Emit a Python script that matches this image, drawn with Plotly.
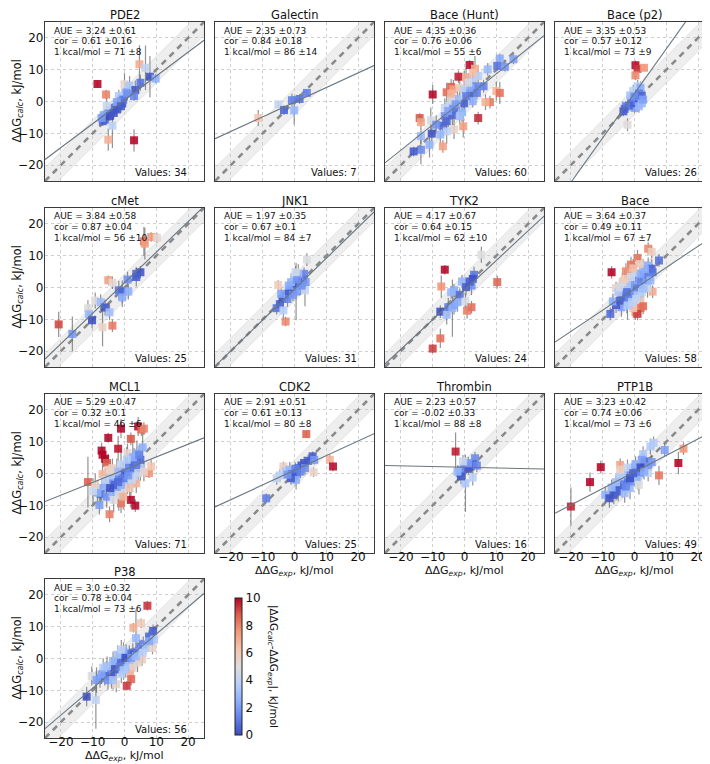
import plotly.graph_objects as go

# ---------------- data ----------------
titles = ["PDE2", "Galectin", "Bace (Hunt)", "Bace (p2)", "cMet", "JNK1", "TYK2", "Bace",
          "MCL1", "CDK2", "Thrombin", "PTP1B", "P38"]

aue = ["3.24 ±0.61", "2.35 ±0.73", "4.35 ±0.36", "3.35 ±0.53", "3.84 ±0.58", "1.97 ±0.35", "4.17 ±0.67",
       "3.64 ±0.37", "5.29 ±0.47", "2.91 ±0.51", "2.23 ±0.57", "3.23 ±0.42", "3.0 ±0.32"]
cor = ["0.61 ±0.16", "0.84 ±0.18", "0.76 ±0.06", "0.57 ±0.12", "0.87 ±0.04", "0.67 ±0.1", "0.64 ±0.15",
       "0.49 ±0.11", "0.32 ±0.1", "0.61 ±0.13", "-0.02 ±0.33", "0.74 ±0.06", "0.78 ±0.04"]
kcal = ["71 ±8", "86 ±14", "55 ±6", "73 ±9", "56 ±10", "84 ±7", "62 ±10", "67 ±7", "46 ±6",
        "80 ±8", "88 ±8", "73 ±6", "73 ±6"]
n_values = [34, 7, 60, 26, 25, 31, 24, 58, 71, 25, 16, 49, 56]

fit_slope = [0.75, 0.46, 0.80, 1.40, 0.96, 0.97, 0.93, 0.67, 0.40, 0.46, -0.022, 0.52, 0.85]
fit_icept = [0.5, -0.2, 0.7, 2.56, 1.5, -0.5, -0.8, -0.4, 1.2, 1.0, 1.95, 0.5, -0.8]

pde2_exp = [-8.5, -5.8, 4.7, 6.6, 8.0, 9.8, 0.0, 1.6, 3.4, 3.0, 0.3, -1.8, -1.1, -1.8, -3.1, -4.2, -5.1,
            -6.5, -6.8, -6.1, -3.8, -5.1, 3.0, -5.6, -2.4, -0.7, -4.6, -0.4, 0.9, -2.4, -3.4, -7.2, 5.0, -1.1]
pde2_calc = [5.5, 2.2, 11.7, 10.6, 7.8, 7.2, 5.4, 5.0, 3.6, 1.7, 2.9, 1.7, 0.0, -1.3, -2.0, -3.0, -3.6,
             -4.3, -6.2, -5.7, -7.6, -12.0, -12.2, -1.3, -2.5, -0.6, -4.6, 0.6, 2.5, -0.2, -3.6, -5.2, 5.9, -1.5]
pde2_err = [1.0, 1.5, 6.0, 7.0, 6.5, 1.5, 3.5, 3.0, 3.0, 1.5, 3.0, 2.0, 2.0, 2.0, 2.0, 2.0, 2.0,
            1.5, 1.5, 1.5, 7.0, 3.5, 3.5, 2.5, 2.0, 2.0, 1.5, 2.5, 2.0, 1.5, 2.0, 1.5, 2.5, 2.0]

gal_exp = [-11.4, -5.1, -3.3, -0.8, -0.1, 1.6, 3.9]
gal_calc = [-5.2, -0.9, -2.7, 0.4, -2.8, 0.8, 2.7]
gal_err = [2.5, 1.0, 1.5, 2.0, 4.5, 1.5, 1.0]

bh_exp = [11.1, 10.3, 12.7, 15.4, 1.6, 3.3, -1.9, 0.5, 4.3, 2.6,
          -4.2, -5.6, -10.0, -3.5, -1.5, -0.1, 1.9, 3.5, 6.0, 10.0,
          11.1, 8.0, 6.6, 2.6, -0.1, -2.2, -4.9, -3.5, -0.8, -6.2,
          -3.8, 4.3, -14.1, -13.7, -10.6, -6.9, -5.6, -3.3, -0.4, -5.6,
          -7.6, -10.3, -13.7, -11.0, -13.7, -16.0, -6.8, -4.2, -2.8, 0.5,
          1.9, -6.2, 1.2, 2.6, 3.9, -1.5, -8.9, -4.2, 7.3, -5.1]
bh_calc = [13.5, 11.2, 10.9, 13.3, 11.5, 10.3, 7.8, 7.5, 8.0, 6.4,
           4.6, 2.9, 2.2, 3.8, 4.3, 3.6, 2.5, 4.8, 4.8, 3.3,
           2.7, -0.2, -0.2, 0.1, -0.6, 0.8, -1.5, -2.5, -3.4, -4.6,
           -4.4, -5.2, -5.2, -6.5, -5.9, -7.6, -6.2, -8.8, -7.8, -9.4,
           -10.4, -10.1, -10.9, -13.6, -15.2, -15.7, -14.1, 0.6, -0.9, 1.7,
           4.3, -2.0, 5.9, 9.0, 2.7, -4.6, -7.3, 2.5, 10.1, -3.0]
bh_err = [1.5, 1.5, 1.5, 1.5, 1.5, 4.0, 2.0, 3.0, 2.0, 5.0,
          2.5, 3.0, 3.0, 3.0, 3.0, 6.0, 3.0, 3.5, 2.0, 3.0,
          3.5, 2.0, 2.5, 2.0, 2.5, 4.0, 3.0, 3.0, 3.0, 3.0,
          3.0, 2.0, 1.5, 2.0, 4.0, 3.0, 3.5, 3.0, 3.5, 4.0,
          3.5, 2.5, 2.5, 4.0, 4.5, 1.5, 2.0, 2.5, 3.0, 3.0,
          4.0, 3.0, 3.0, 3.0, 2.0, 2.5, 3.0, 3.0, 2.0, 5.0]

bp2_exp = [0.3, 0.95, 3.0, 0.3, 0.0, 1.0, 1.9, -0.4, 1.4, 2.3, -0.8, 0.3, 1.6, 0.95, -0.4, -1.1, 2.3,
           -1.8, -2.7, -3.1, -3.5, 1.4, -2.2, -1.4, 0.0, 2.7]
bp2_calc = [11.4, 10.3, 10.6, 8.2, -2.0, 4.8, 4.3, 3.3, 2.5, 1.7, 0.6, 0.1, 0.8, -0.6, -0.4, 0.1, -0.6,
            -1.3, -1.5, -2.3, -3.1, -1.5, -7.3, 1.9, 1.5, 0.6]
bp2_err = [1.5, 1.5, 1.0, 1.5, 1.5, 2.0, 2.0, 2.0, 2.0, 1.5, 2.0, 2.0, 2.0, 2.0, 2.0, 2.0, 1.5,
           1.5, 1.5, 1.5, 1.5, 2.0, 2.0, 1.5, 1.5, 1.5]

cmet_exp = [6.1, 6.4, 8.4, 10.2, 3.7, 5.0, 0.95, -5.1, -3.8, -1.8, -0.7, 1.2, -0.7, -9.2, -7.5, -6.1,
            -11.5, -11.2, -4.7, -10.2, -20.7, -6.9, -3.8, -16.4, 3.7]
cmet_calc = [14.5, 13.8, 15.9, 15.6, 4.3, 4.8, 2.5, 2.3, 1.5, -0.9, -1.3, -1.3, -3.1, -4.1, -4.6, -6.3,
             -6.5, -8.4, -7.8, -10.3, -11.6, -12.5, -12.0, -14.6, 3.3]
cmet_err = [4.5, 5.0, 1.5, 1.5, 2.0, 2.0, 2.5, 1.5, 2.0, 3.0, 3.5, 2.5, 3.0, 2.5, 2.5, 2.5,
            2.5, 3.0, 2.5, 2.5, 4.0, 6.0, 2.0, 5.5, 3.0]

jnk1_exp = [3.9, -5.1, -2.8, -5.6, -4.6, -3.8, -2.8, -2.2, -1.5, -0.8, -0.1, 0.5, 1.2, 1.9, 2.6, 3.0,
            1.2, -0.1, -1.1, 0.5, 1.9, 3.3, -2.2, -3.5, -0.5, 2.2, 0.8, -1.8, 3.5, -4.2, 0.3]
jnk1_calc = [8.8, 0.8, -10.7, -6.5, -5.2, -3.6, -2.5, -2.0, -0.9, -0.4, 0.1, 0.8, 1.5, 2.2, 2.7, 4.3,
             4.3, 3.3, 1.7, -1.3, -0.4, -0.9, -3.6, -7.2, -2.3, 0.6, 2.5, 0.6, 1.7, -2.0, 4.8]
jnk1_err = [2.0, 1.5, 1.5, 2.0, 2.0, 2.5, 2.0, 2.0, 2.0, 2.5, 2.0, 2.0, 2.0, 2.5, 2.5, 2.0,
            3.0, 2.0, 2.0, 9.0, 2.0, 5.0, 2.5, 3.0, 2.0, 2.0, 2.0, 2.0, 2.0, 2.0, 2.0]

tyk2_exp = [5.3, -6.2, -7.3, 10.3, 3.0, 2.6, -0.8, -3.3, -1.5, 2.2, 0.5, 0.3, -5.1, -3.8, -3.3, -7.6,
            -5.6, 0.8, 2.2, -7.6, -10.0, -2.2, 1.6, -4.2]
tyk2_calc = [10.3, 5.6, 0.3, 1.7, 4.0, 2.7, 1.9, -0.9, -2.3, 0.6, 0.1, -4.4, -6.2, -6.5, -5.5, -7.6,
             -8.6, -7.3, -6.2, -16.0, -19.2, -4.6, 1.9, -1.5]
tyk2_err = [2.5, 1.5, 3.5, 2.0, 2.5, 2.0, 2.0, 2.0, 2.0, 3.0, 2.5, 2.5, 3.0, 9.0, 3.0, 2.0,
            3.0, 2.5, 2.0, 3.0, 1.5, 3.0, 2.0, 2.0]

bace_exp = [-7.2, -5.8, 4.3, 5.4, 0.95, -1.1, -2.7, 2.7, 4.3, 7.7,
            5.4, 5.7, 3.0, 1.4, -0.4, -1.8, -3.1, 0.95, 2.3, 5.7,
            3.7, 1.9, 1.4, 2.7, 1.9, 0.3, 0.95, -0.4, -2.4, -4.1,
            -5.8, -6.8, -7.6, -4.5, -3.8, -1.8, -0.4, 0.95, 2.3, -2.4,
            -3.8, -1.1, 0.3, 1.9, 3.3, 4.6, 4.1, -3.1, -5.1, -2.2,
            -0.8, 0.5, 2.7, 5.0, 1.6, -0.4, -4.5, -2.4]
bace_calc = [4.8, -0.2, 12.2, 11.2, 9.3, 7.2, 5.1, 6.5, 6.9, 8.5,
             5.9, 4.8, 3.8, 2.7, 1.7, 0.1, -0.9, -0.2, 0.8, -1.3,
             1.7, -4.1, -4.8, -5.9, -6.5, -7.6, -8.3, -6.5, -4.6, -6.2,
             -5.5, -4.4, -8.3, -4.1, -3.1, -3.1, -2.0, -2.5, -1.5, 1.1,
             1.7, 3.3, 4.6, 4.3, 5.7, 3.3, -0.2, 2.7, -1.5, -5.7,
             -4.6, -3.6, -0.4, 2.2, 7.4, 6.0, 0.1, -1.5]
bace_err = [2.0, 2.0, 2.0, 2.0, 2.5, 2.5, 2.5, 2.5, 2.5, 2.0,
            3.0, 2.5, 3.0, 3.0, 3.0, 3.0, 3.0, 3.0, 3.0, 2.0,
            3.0, 3.0, 3.0, 2.5, 2.5, 2.5, 2.0, 3.0, 3.5, 3.0,
            2.5, 2.5, 2.0, 3.0, 3.0, 3.0, 3.0, 3.0, 3.0, 3.0,
            3.0, 3.5, 3.0, 3.0, 2.5, 2.5, 3.0, 3.0, 3.0, 4.5,
            3.0, 3.0, 3.0, 2.5, 2.5, 3.0, 3.0, 3.0]

mcl1_exp = [-1.1, 4.3, 5.3, 6.1, -5.1, 2.0, -2.0, -7.2, -6.9, -6.1,
            -5.5, -11.5, 2.0, 3.4, -1.1, -4.7, 3.7, 7.7, 8.4, -3.8,
            -6.9, -0.4, 0.95, 5.7,
            3.9, 5.0, 3.0, 1.6, 2.3, 0.95, -0.4, -1.8, -3.1, -4.5,
            -5.8, -7.2, -7.5, -5.6, -3.8, -2.4, -3.1, -4.5, -7.9, 0.95,
            3.0, 4.3, 5.0, 0.3, -1.1, -2.4, -8.5, -9.2, -1.1, 1.6,
            3.7, 2.6, 0.7, -4.2, -6.1, -1.8, -3.4, -0.4, 2.3, 6.1,
            -5.1, -9.9, 4.6, -4.5, -0.4, 1.2, -2.0]
mcl1_calc = [14.1, 14.8, 13.8, 14.1, 11.2, 10.9, 7.8, 7.2, 5.9, 4.6,
             3.3, -2.7, -8.3, -10.1, -9.4, -12.8, -3.1, 0.1, 2.2, 1.7,
             -0.2, -5.2, 6.4, 8.2,
             6.4, 4.3, 4.0, 2.2, 1.2, 0.1, -0.2, -0.9, -1.7, -2.5,
             -3.6, -4.6, -6.5, -7.3, -6.5, -4.6, -3.6, -4.6, -9.9, -2.5,
             -0.9, 0.1, 1.7, 1.9, 2.9, 0.6, -6.0, -3.6, -3.6, -4.6,
             2.7, 5.1, 4.3, -0.6, -2.0, -6.7, -8.3, -7.3, -2.0, 0.6,
             1.2, -5.5, 5.9, 1.0, -1.5, -0.6, -2.7]
mcl1_err = [3.0, 3.0, 2.0, 2.0, 1.5, 2.0, 4.0, 2.5, 2.5, 2.5,
            2.0, 8.0, 2.5, 2.0, 3.0, 2.5, 3.0, 1.5, 2.0, 3.0,
            4.0, 3.0, 3.0, 5.0,
            4.0, 3.0, 4.0, 4.0, 5.0, 4.0, 4.0, 3.0, 4.0, 3.5,
            4.0, 4.0, 3.0, 3.5, 3.0, 3.5, 3.5, 3.5, 3.0, 4.0,
            3.5, 3.0, 4.0, 4.0, 5.0, 4.0, 4.0, 3.5, 4.0, 4.0,
            4.0, 5.0, 4.0, 3.0, 3.5, 5.0, 4.0, 4.0, 4.0, 3.0,
            5.0, 4.0, 3.0, 3.0, 4.0, 4.0, 4.0]

cdk2_exp = [3.7, 11.1, 12.1, 6.0, -3.5, -8.9, -5.6, -4.6, -2.8, -1.5, -0.8, -0.1, 0.5, 1.2, 2.2,
            3.0, 4.3, 5.7, 6.2, 0.5, -1.1, 1.9, -2.2, 0.3, 3.3]
cdk2_calc = [12.4, 4.3, 2.2, 0.4, 2.2, -7.8, -1.5, -0.6, 0.6, 1.2, -0.2, -0.6, 0.1, 1.7, 2.5,
             3.3, 4.0, 5.4, 4.3, -2.0, -1.5, 0.6, -0.4, 1.5, 1.7]
cdk2_err = [1.0, 1.5, 1.5, 1.5, 1.5, 1.5, 2.0, 2.0, 2.0, 2.5, 2.5, 2.5, 2.0, 2.0, 2.0,
            2.0, 2.0, 1.5, 1.5, 3.0, 2.0, 2.0, 2.0, 2.0, 2.0]

thr_exp = [-2.8, 0.3, -1.5, -0.8, -0.1, 0.5, 1.2, 1.9, 3.3, 2.6, 3.9, -1.1, 2.6, -2.2, 1.2, -0.5]
thr_calc = [6.9, -3.1, 0.1, 1.2, 1.7, 1.9, 1.5, 2.2, 4.8, 2.9, 2.5, -0.9, -1.3, 0.6, 3.3, 3.8]
thr_err = [6.0, 9.0, 2.0, 2.0, 2.0, 2.0, 2.0, 2.0, 2.0, 2.0, 2.0, 2.5, 2.5, 2.0, 2.0, 2.0]

ptp_exp = [-20.0, -14.0, -10.6, -4.5, 7.7, 13.8, 15.4, 9.5, 6.0, 5.0,
           2.7, 3.3, 2.3, 4.1, 5.4, 0.95, -0.4, -1.1, -2.2, 0.3,
           1.6, 4.3, -3.1, -4.5, -5.1, -3.8, -2.2, -5.8, -9.2, -7.9,
           -6.5, -5.1, -3.1, -1.4, -0.8, 0.95, -2.2, -3.8, -4.5, 0.3,
           1.9, -5.8, -7.2, 1.4, 3.0, -2.7, -4.5, -1.4, -0.4]
ptp_calc = [-10.4, -2.7, 2.0, 2.7, -0.6, 3.3, 7.8, 7.4, 9.6, 8.5,
            6.1, 3.8, 4.3, 2.2, 3.6, 1.2, 1.7, 0.6, -0.6, -0.6,
            0.1, 0.1, -2.0, -3.1, -4.4, -4.6, -3.1, -5.5, -6.7, -7.8,
            -6.7, -5.7, -6.2, -4.6, -2.5, -2.0, 1.9, -0.2, -0.9, 2.9,
            1.9, -2.7, -4.4, -3.6, 0.6, -4.1, 1.2, -1.5, 0.1]
ptp_err = [6.0, 3.0, 2.0, 2.0, 3.0, 3.5, 2.0, 2.0, 2.0, 2.5,
           2.5, 2.5, 2.0, 2.0, 2.0, 2.5, 2.5, 2.5, 2.5, 2.5,
           2.5, 2.5, 3.0, 3.0, 3.0, 3.0, 3.0, 3.0, 2.5, 3.0,
           3.0, 3.0, 3.0, 3.5, 3.0, 3.0, 2.5, 2.5, 2.5, 2.5,
           2.5, 2.5, 2.5, 3.0, 2.5, 3.0, 2.5, 2.5, 2.5]

p38_exp = [7.2, 2.8, 5.2, 9.0, 7.7, 9.3, 3.6, 5.9, 4.8, 6.7,
           8.8, 4.1, 2.6, 1.5, 0.5, -0.3, -1.0, -2.1, -2.6, -0.5,
           1.3, 3.1, 4.1, 5.5, 2.6, 1.8, 2.1, 0.7, -2.6, 0.3,
           -1.0, -3.1, -4.1, -4.6, -5.7, -6.7, -7.7, -6.2, -5.2, -3.6,
           -10.3, -8.8, -11.9, -9.0, -2.1, -3.6, -1.5, 0.3, 2.1, 3.6,
           5.7, -1.0, -5.5, -7.2, 7.7, -0.3]
p38_calc = [16.6, 9.7, 11.1, 8.7, 6.9, 5.9, 6.4, 4.4, 3.5, 3.3,
            3.3, 2.1, 1.8, 1.2, 1.5, 2.1, 0.7, -1.0, -1.9, -1.3,
            -1.7, -0.3, -1.3, -0.3, -2.9, -4.8, -6.5, -8.6, -8.1, -3.0,
            -4.8, -3.4, -4.5, -5.0, -3.9, -2.9, -6.2, -5.5, -6.8, -6.8,
            -5.5, -6.8, -12.0, -13.1, 1.2, -0.8, -2.7, 0.2, 0.2, 0.7,
            1.8, 2.8, -2.4, -5.0, 5.4, -3.7]
p38_err = [1.5, 1.5, 1.5, 2.0, 2.0, 2.0, 9.0, 2.5, 2.5, 2.0,
           2.0, 3.0, 3.0, 3.0, 3.0, 3.0, 3.0, 3.0, 4.0, 3.0,
           3.0, 3.0, 3.0, 2.0, 3.0, 3.0, 2.0, 1.5, 2.5, 3.0,
           3.0, 4.0, 5.0, 3.0, 3.0, 3.0, 3.0, 3.0, 3.0, 3.0,
           3.0, 4.0, 3.0, 9.0, 3.0, 3.0, 3.0, 3.0, 3.0, 3.0,
           3.0, 3.0, 3.0, 3.0, 2.0, 3.0]

exp_sets = [pde2_exp, gal_exp, bh_exp, bp2_exp, cmet_exp, jnk1_exp, tyk2_exp, bace_exp,
            mcl1_exp, cdk2_exp, thr_exp, ptp_exp, p38_exp]
calc_sets = [pde2_calc, gal_calc, bh_calc, bp2_calc, cmet_calc, jnk1_calc, tyk2_calc, bace_calc,
             mcl1_calc, cdk2_calc, thr_calc, ptp_calc, p38_calc]
err_sets = [pde2_err, gal_err, bh_err, bp2_err, cmet_err, jnk1_err, tyk2_err, bace_err,
            mcl1_err, cdk2_err, thr_err, ptp_err, p38_err]

KCAL = 4.184          # 1 kcal/mol band half-width in kJ/mol
AX_LO, AX_HI = -25, 25
tick_vals = [-20, -10, 0, 10, 20]
cbar_ticks = [0, 2, 4, 6, 8, 10]

# ---------------- styling / layout ----------------
W, H = 710, 764
col_left = [37, 207, 377, 547]
row_top = [14, 200, 386, 571]
SIZE = 159
FONT = "DejaVu Sans"

coolwarm = [
    [0.0, "rgb(58,76,192)"], [0.125, "rgb(98,130,234)"], [0.25, "rgb(141,176,254)"],
    [0.375, "rgb(184,208,249)"], [0.5, "rgb(221,221,221)"], [0.625, "rgb(245,196,173)"],
    [0.75, "rgb(244,154,123)"], [0.875, "rgb(222,96,77)"], [1.0, "rgb(180,4,38)"],
]

fig = go.Figure()
annotations = []
layout_axes = {}

xs_line = [AX_LO, AX_HI]

for i, title in enumerate(titles):
    r, c = divmod(i, 4)
    L = col_left[c]
    T = row_top[r]
    xd = [L / W, (L + SIZE) / W]
    yd = [1 - (T + SIZE) / H, 1 - T / H]
    k = "" if i == 0 else str(i + 1)
    xa, ya = "x" + k, "y" + k

    show_x = i in (9, 10, 11, 12)
    show_y = c == 0
    common = dict(range=[AX_LO, AX_HI], tickvals=tick_vals, showgrid=True, gridcolor="#cfcfcf",
                  griddash="dot", gridwidth=1, zeroline=False, showline=True, mirror=True,
                  linecolor="#3a3a3a", linewidth=1.3, ticks="", fixedrange=True,
                  tickfont=dict(family=FONT, size=12, color="#111"))
    layout_axes["xaxis" + k] = dict(common, domain=xd, anchor=ya, showticklabels=show_x,
                                    ticklabelstandoff=-8)
    layout_axes["yaxis" + k] = dict(common, domain=yd, anchor=xa, showticklabels=show_y,
                                    ticklabelstandoff=-2)

    # +-1 kcal/mol band around the diagonal
    bx = [AX_LO, AX_HI, AX_HI, AX_LO, AX_LO]
    by = [AX_LO + KCAL, AX_HI + KCAL, AX_HI - KCAL, AX_LO - KCAL, AX_LO + KCAL]
    fig.add_trace(go.Scatter(x=bx, y=by, xaxis=xa, yaxis=ya, mode="lines", fill="toself",
                             fillcolor="rgba(200,200,200,0.30)", line=dict(width=0.6, color="rgba(190,190,190,0.6)"),
                             hoverinfo="skip", showlegend=False))
    # identity (dashed)
    fig.add_trace(go.Scatter(x=xs_line, y=xs_line, xaxis=xa, yaxis=ya, mode="lines",
                             line=dict(color="#8a8a8a", width=2.6, dash="6px,5px"),
                             hoverinfo="skip", showlegend=False))

    ex, ca, er = exp_sets[i], calc_sets[i], err_sets[i]
    dev = [abs(b - a) for a, b in zip(ex, ca)]
    marker = dict(symbol="square", size=8, color=dev, cmin=0, cmax=10, colorscale=coolwarm,
                  opacity=0.88, line=dict(width=0))
    if i == 12:
        marker.update(showscale=True, colorbar=dict(
            x=227 / W, xanchor="left", y=1 - 727 / H, yanchor="bottom", len=137 / H, lenmode="fraction",
            thickness=7, xpad=0, ypad=0, outlinecolor="#222", outlinewidth=1,
            tickvals=cbar_ticks, ticks="", tickfont=dict(family=FONT, size=12, color="#111")))
    fig.add_trace(go.Scatter(x=ex, y=ca, xaxis=xa, yaxis=ya, mode="markers", marker=marker,
                             error_y=dict(type="data", array=er, visible=True, color="rgba(110,110,110,0.75)",
                                          thickness=1.2, width=0),
                             showlegend=False))
    # regression line
    ys_fit = [fit_slope[i] * v + fit_icept[i] for v in xs_line]
    fig.add_trace(go.Scatter(x=xs_line, y=ys_fit, xaxis=xa, yaxis=ya, mode="lines",
                             line=dict(color="rgb(105,118,128)", width=1.1),
                             hoverinfo="skip", showlegend=False))

    # panel title
    annotations.append(dict(text=title, xref=xa + " domain", yref=ya + " domain", x=0.5, y=1.0,
                            yshift=7, xanchor="center", yanchor="middle", showarrow=False,
                            font=dict(family=FONT, size=11.5, color="#111")))
    stats = ["AUE = " + aue[i], "cor = " + cor[i], "1 kcal/mol = " + kcal[i]]
    for j, s in enumerate(stats):
        annotations.append(dict(text=s, xref=xa + " domain", yref=ya + " domain", x=0.045,
                                y=1 - (8.5 + 10.7 * j) / SIZE, xanchor="left", yanchor="middle",
                                showarrow=False, font=dict(family=FONT, size=9, color="#111")))
    annotations.append(dict(text="Values: %d" % n_values[i], xref=xa + " domain", yref=ya + " domain",
                            x=0.905, y=9 / SIZE, xanchor="right", yanchor="middle", showarrow=False,
                            font=dict(family=FONT, size=10, color="#111")))
    if show_y:
        annotations.append(dict(text="ΔΔG<sub><i>calc</i></sub>, kJ/mol", xref="paper", yref="paper",
                                x=9 / W, y=1 - (T + SIZE / 2) / H, textangle=-90, xanchor="center",
                                yanchor="middle", showarrow=False, font=dict(family=FONT, size=11.5, color="#111")))
    if show_x:
        ybot = T + SIZE + 27
        annotations.append(dict(text="ΔΔG<sub><i>exp</i></sub>, kJ/mol", xref="paper", yref="paper",
                                x=(L + SIZE / 2) / W, y=1 - ybot / H, xanchor="center",
                                yanchor="bottom", showarrow=False, font=dict(family=FONT, size=11, color="#111")))

# colour bar label
annotations.append(dict(text="|ΔΔG<sub><i>calc</i></sub>-ΔΔG<sub><i>exp</i></sub>|, kJ/mol", xref="paper",
                        yref="paper", x=265 / W, y=1 - 658 / H, textangle=90, xanchor="center",
                        yanchor="middle", showarrow=False, font=dict(family=FONT, size=10.5, color="#111")))

fig.update_layout(width=W, height=H, margin=dict(l=0, r=0, t=0, b=0), paper_bgcolor="white",
                  plot_bgcolor="white", annotations=annotations, font=dict(family=FONT),
                  **layout_axes)

fig.write_html("out.html")
